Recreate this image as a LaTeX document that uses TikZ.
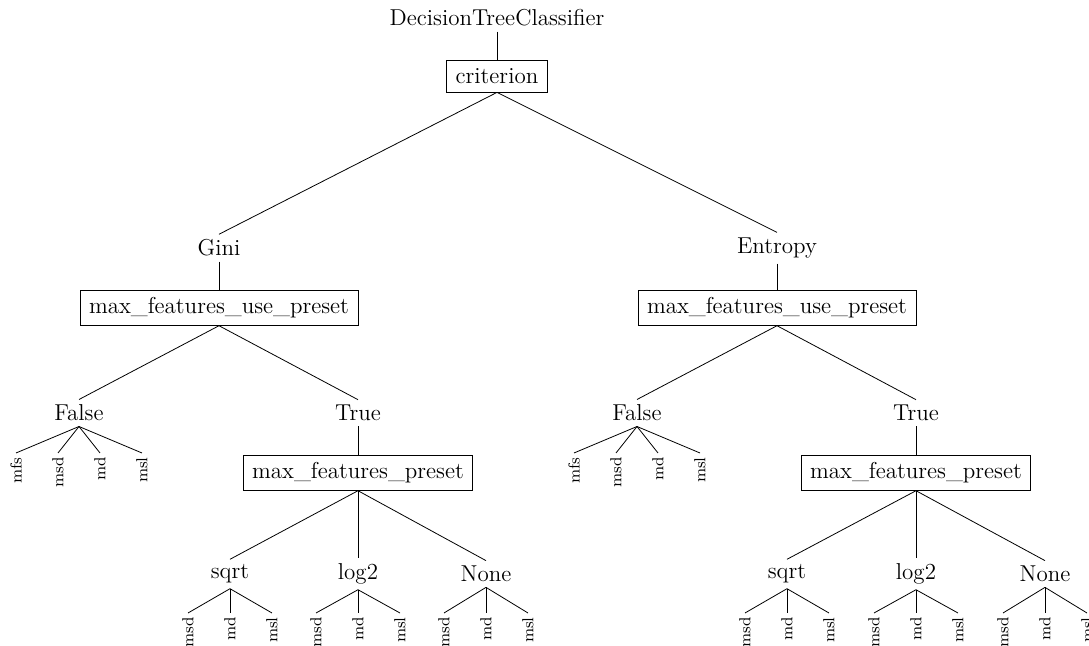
\documentclass[tikz,border=0pt]{standalone}
\usepackage{amsmath}
\usepackage{tikz}
\usetikzlibrary{arrows,shapes}

\tikzset{
  value/.style={font=\fontsize{11.5}{13}\selectfont, inner sep=2.5pt},
  param/.style={value, draw, inner xsep=4.5pt, inner ysep=3.5pt, minimum height=16pt},
  leaf/.style={rotate=90, anchor=east, inner sep=2pt, font=\fontsize{8}{9}\selectfont}
}

\begin{document}
\begin{tikzpicture}[x=0.5pt,y=-0.5pt]
\useasboundingbox (0,0) rectangle (1089,646);
% top of the tree
\node [value] (dtc) at (497,18) {DecisionTreeClassifier};
\node [param] (crit) at (497,76) {criterion};
\node [value] (gini) at (219,248) {Gini};
\node [value] (entropy) at (777,248) {Entropy};
\node [param] (guse) at (219,308) {max\_features\_use\_preset};
\node [param] (euse) at (777,308) {max\_features\_use\_preset};
\node [value] (gfalse) at (79,413) {False};
\node [value] (gtrue) at (358,413) {True};
\node [value] (efalse) at (637,413) {False};
\node [value] (etrue) at (916,413) {True};
\node [param] (gpre) at (358,473) {max\_features\_preset};
\node [param] (epre) at (916,473) {max\_features\_preset};
\node [value] (gsqrt) at (230,574) {sqrt};
\node [value] (glog) at (358,574) {log2};
\node [value] (gnone) at (486,574) {None};
\node [value] (esqrt) at (787,574) {sqrt};
\node [value] (elog) at (916,574) {log2};
\node [value] (enone) at (1045,574) {None};

\draw (dtc) -- (crit);
\draw (crit.south) -- (gini.north);
\draw (crit.south) -- (entropy.north);
\draw (gini) -- (guse);
\draw (entropy) -- (euse);
\draw (guse.south) -- (gfalse.north);
\draw (guse.south) -- (gtrue.north);
\draw (euse.south) -- (efalse.north);
\draw (euse.south) -- (etrue.north);
\draw (gtrue) -- (gpre);
\draw (etrue) -- (epre);
\draw (gpre.south) -- (gsqrt.north);
\draw (gpre.south) -- (glog.north);
\draw (gpre.south) -- (gnone.north);
\draw (epre.south) -- (esqrt.north);
\draw (epre.south) -- (elog.north);
\draw (epre.south) -- (enone.north);

% leaves under False
\foreach \p/\x in {gfalse/79,efalse/637}
  \foreach \lab/\dx in {mfs/-63,msd/-21,md/21,msl/63}
  {
    \node [leaf] (\p-\lab) at ({\x+\dx},453) {\lab};
    \draw (\p.south) -- (\p-\lab.east);
  }

% leaves under sqrt, log2, None
\foreach \p/\x in {gsqrt/230,glog/358,gnone/486,esqrt/787,elog/916,enone/1045}
  \foreach \lab/\dx in {msd/-42,md/0,msl/42}
  {
    \node [leaf] (\p-\lab) at ({\x+\dx},613) {\lab};
    \draw (\p.south) -- (\p-\lab.east);
  }
\end{tikzpicture}
\end{document}
